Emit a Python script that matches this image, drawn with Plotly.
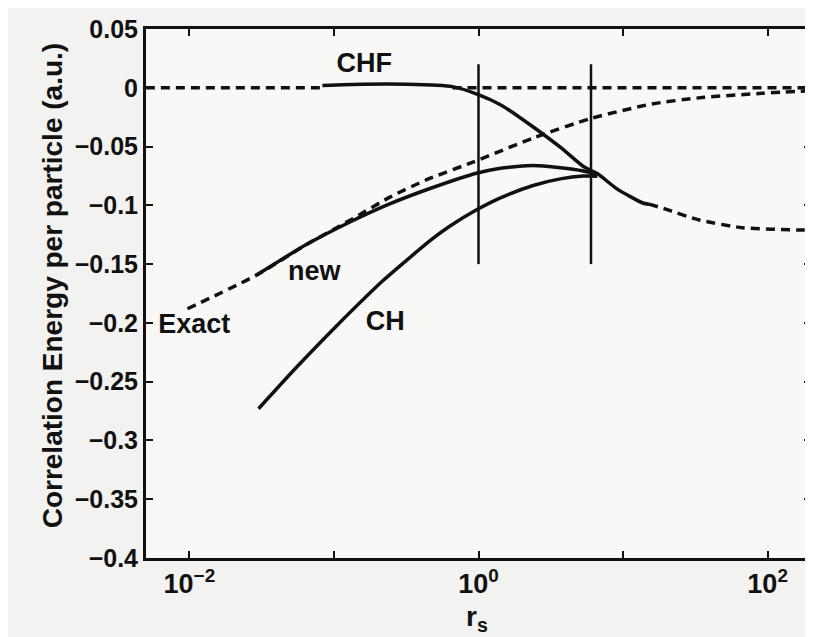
import plotly.graph_objects as go

# ---- data (rs in bohr, energies in a.u.) ----
exact_rs = [0.0097, 0.029, 0.064, 0.128, 0.244, 0.442, 0.925, 2.42, 6.04, 15.8, 35.2, 91.4, 200]
exact_ec = [-0.188, -0.1595, -0.1336, -0.113, -0.093, -0.078, -0.063, -0.0425, -0.026, -0.0138, -0.0083, -0.0047, -0.0025]

new_rs = [0.029, 0.064, 0.127, 0.243, 0.462, 0.982, 1.419, 2.399, 3.69, 5.309, 6.637]
new_ec = [-0.1595, -0.1336, -0.1146, -0.0988, -0.0857, -0.0725, -0.0684, -0.0662, -0.0681, -0.0708, -0.0735]

ch_rs = [0.0301, 0.0551, 0.1054, 0.2188, 0.4764, 0.6281, 0.9705, 1.406, 2.388, 3.681, 5.309, 6.637]
ch_ec = [-0.273, -0.2378, -0.202, -0.164, -0.1288, -0.118, -0.1038, -0.0938, -0.0831, -0.0775, -0.0751, -0.0752]

chf_rs = [0.0832, 0.158, 0.316, 0.661, 1.007, 1.449, 2.432, 3.715, 5.321, 6.637, 9.078, 13.68, 15.14]
chf_ec = [0.002, 0.003, 0.003, 0.001, -0.006, -0.015, -0.034, -0.051, -0.067, -0.073, -0.086, -0.098, -0.099]

chf_ext_rs = [15.14, 20.0, 33.7, 66.7, 173, 200]
chf_ext_ec = [-0.099, -0.1035, -0.1125, -0.119, -0.121, -0.121]

zero_rs = [0.005, 0.0832, None, 0.661, 200]
zero_ec = [0.0, 0.0, None, 0.0, 0.0]

marker_rs = [1.0, 6.0]
marker_top = 0.02
marker_bottom = -0.15

labels = ["CHF", "new", "CH", "Exact"]
label_rs = [0.162, 0.0731, 0.2265, 0.0108]
label_ec = [0.0195, -0.158, -0.2005, -0.203]

x_tickvals = [0.01, 1, 100]
x_ticktext = ["<b>10<sup>−2</sup></b>", "<b>10<sup>0</sup></b>", "<b>10<sup>2</sup></b>"]
x_minor_tickvals = [0.1, 10]
y_tickvals = [0.05, 0, -0.05, -0.1, -0.15, -0.2, -0.25, -0.3, -0.35, -0.4]
y_ticktext = ["<b>0.05</b>", "<b>0</b>", "<b>−0.05</b>", "<b>−0.1</b>", "<b>−0.15</b>",
              "<b>−0.2</b>", "<b>−0.25</b>", "<b>−0.3</b>", "<b>−0.35</b>", "<b>−0.4</b>"]

INK = "#111111"
FONT = "Liberation Sans, Arial, sans-serif"
DASH = "9px,6px"

fig = go.Figure()

fig.add_trace(go.Scatter(x=zero_rs, y=zero_ec, mode="lines", name="zero",
                         line=dict(color=INK, width=3.5, dash=DASH), connectgaps=False))
fig.add_trace(go.Scatter(x=exact_rs, y=exact_ec, mode="lines", name="Exact",
                         line=dict(color=INK, width=3.5, dash=DASH, shape="spline", smoothing=0.6)))
fig.add_trace(go.Scatter(x=chf_ext_rs, y=chf_ext_ec, mode="lines", name="CHF (ext.)",
                         line=dict(color=INK, width=3.5, dash=DASH, shape="spline", smoothing=0.6)))
fig.add_trace(go.Scatter(x=new_rs, y=new_ec, mode="lines", name="new",
                         line=dict(color=INK, width=3.5, shape="spline", smoothing=0.6)))
fig.add_trace(go.Scatter(x=ch_rs, y=ch_ec, mode="lines", name="CH",
                         line=dict(color=INK, width=3.5, shape="spline", smoothing=0.6)))
fig.add_trace(go.Scatter(x=chf_rs, y=chf_ec, mode="lines", name="CHF",
                         line=dict(color=INK, width=3.5, shape="spline", smoothing=0.6)))

for rs in marker_rs:
    fig.add_trace(go.Scatter(x=[rs, rs], y=[marker_top, marker_bottom], mode="lines",
                             line=dict(color=INK, width=2.5), showlegend=False))

for t, xr, yv in zip(labels, label_rs, label_ec):
    fig.add_trace(go.Scatter(x=[xr], y=[yv], mode="text", text=["<b>" + t + "</b>"],
                             textfont=dict(family=FONT, size=27, color=INK),
                             textposition="middle center", showlegend=False))

fig.update_layout(
    width=813, height=637, autosize=False,
    margin=dict(l=138, r=7, t=19, b=87),
    paper_bgcolor="#f2f2f0", plot_bgcolor="#f8f8f6",
    showlegend=False,
    font=dict(family=FONT, color=INK, size=26),
)

fig.update_xaxes(type="log", range=[-2.3, 2.3],
                 tickvals=x_tickvals, ticktext=x_ticktext,
                 ticks="inside", ticklen=7, tickwidth=2, tickcolor=INK,
                 minor=dict(tickvals=x_minor_tickvals, ticks="inside", ticklen=7,
                            tickwidth=2, tickcolor=INK, showgrid=False),
                 showline=True, linecolor=INK, linewidth=3, mirror="ticks",
                 showgrid=False, zeroline=False,
                 tickfont=dict(family=FONT, size=27, color=INK))
fig.update_yaxes(range=[-0.4, 0.05],
                 tickvals=y_tickvals, ticktext=y_ticktext,
                 ticks="inside", ticklen=7, tickwidth=2, tickcolor=INK,
                 showline=True, linecolor=INK, linewidth=3, mirror="ticks",
                 showgrid=False, zeroline=False,
                 tickfont=dict(family=FONT, size=25, color=INK))

fig.add_annotation(text="<b>Correlation Energy per particle (a.u.)</b>", textangle=-90,
                   xref="paper", yref="paper", x=-0.141, y=0.514,
                   xanchor="center", yanchor="middle", showarrow=False,
                   font=dict(family=FONT, size=28, color=INK))
fig.add_annotation(text="<b>r<sub>s</sub></b>",
                   xref="paper", yref="paper", x=0.497, y=-0.115,
                   xanchor="center", yanchor="middle", showarrow=False,
                   font=dict(family=FONT, size=28, color=INK))

fig.write_html("out.html")
